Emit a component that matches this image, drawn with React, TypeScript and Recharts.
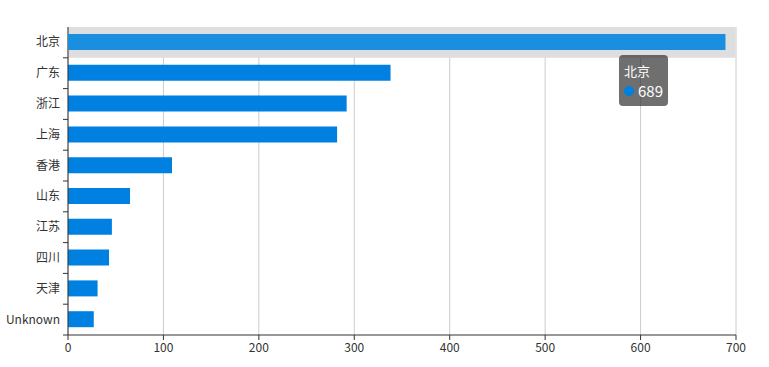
import React from 'react';
import { BarChart, Bar, XAxis, YAxis, CartesianGrid, Tooltip } from 'recharts';

const provinces = ['北京', '广东', '浙江', '上海', '香港', '山东', '江苏', '四川', '天津', 'Unknown'];
const counts = [689, 338, 292, 282, 109, 65, 46, 43, 31, 27];
const xTicks = [0, 100, 200, 300, 400, 500, 600, 700];

const data = provinces.map((name, i) => ({ name, value: counts[i] }));

const W = 769;
const H = 367;
const M = { top: 27, right: 33, bottom: 2, left: 0 };
const XH = 30;
const BAND = (H - M.top - M.bottom - XH) / provinces.length;
const FONT = '"Noto Sans CJK SC", "Noto Sans", sans-serif';

const YTick = (props: any) => {
  const { x, y, payload } = props;
  const axisX = x + 8;
  return (
    <g>
      <text x={x} y={y} dy={4} textAnchor="end" fill="#333" fontSize={12} fontFamily={FONT}>
        {payload.value}
      </text>
      <line x1={axisX - 5} x2={axisX} y1={y + BAND / 2} y2={y + BAND / 2} stroke="#333" />
    </g>
  );
};

const TipContent = (props: any) => {
  const { active, payload } = props;
  if (!active || !payload || !payload.length) return null;
  const p = payload[0];
  return (
    <div
      style={{
        background: 'rgba(50,50,50,0.7)',
        borderRadius: 4,
        padding: '6px 5px 5px 5px',
        color: '#fff',
        fontFamily: FONT,
        lineHeight: '20px',
      }}
    >
      <div style={{ fontSize: 13 }}>{p.payload.name}</div>
      <div style={{ fontSize: 15, display: 'flex', alignItems: 'center' }}>
        <span
          style={{
            display: 'inline-block',
            width: 10,
            height: 10,
            borderRadius: 5,
            background: '#0080e0',
            marginRight: 4,
          }}
        />
        {p.value}
      </div>
    </div>
  );
};

export default function App() {
  return (
    <div style={{ position: 'absolute', left: 0, top: 0, width: W, height: H, background: '#fff' }}>
      <BarChart width={W} height={H} data={data} layout="vertical" margin={M}>
        <CartesianGrid horizontal={false} vertical={true} stroke="#ccc" />
        <XAxis
          type="number"
          domain={[0, 700]}
          ticks={xTicks}
          height={XH}
          axisLine={{ stroke: '#333' }}
          tickLine={{ stroke: '#333' }}
          tickSize={5}
          tickMargin={3}
          tick={{ fill: '#333', fontSize: 12, fontFamily: FONT }}
        />
        <YAxis
          type="category"
          dataKey="name"
          width={68}
          axisLine={{ stroke: '#333' }}
          tickLine={false}
          tickSize={5}
          tickMargin={3}
          interval={0}
          tick={<YTick />}
        />
        <Tooltip
          active={true}
          defaultIndex={0}
          position={{ x: 619, y: 55 }}
          cursor={{ fill: '#dedede' }}
          content={<TipContent />}
          isAnimationActive={false}
          wrapperStyle={{ outline: 'none' }}
        />
        <Bar
          dataKey="value"
          fill="#0080e0"
          barSize={16}
          activeBar={{ fill: '#1a8fe0' }}
          isAnimationActive={false}
        />
      </BarChart>
    </div>
  );
}
